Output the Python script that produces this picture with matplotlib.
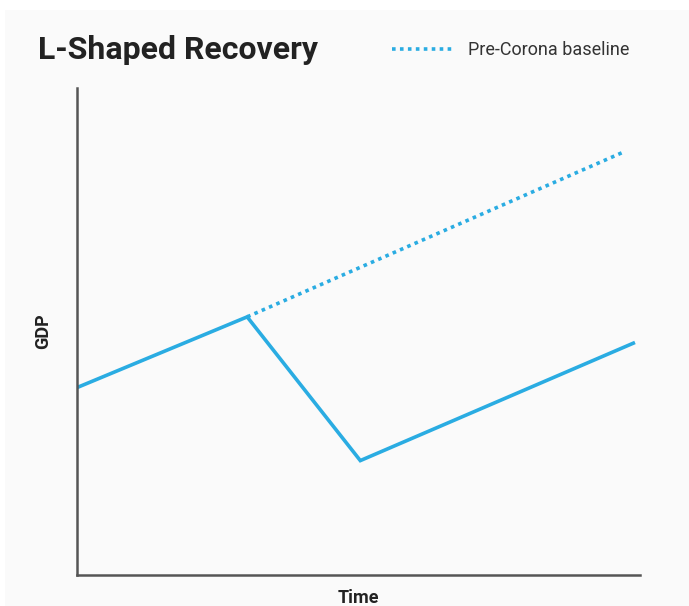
import matplotlib.pyplot as plt
from matplotlib import font_manager
from matplotlib.patches import Rectangle

# data
time = [0, 3.02, 5.03, 9.88]
gdp = [3.85, 5.3, 2.35, 4.76]
baseline_time = [3.02, 9.68]
baseline_gdp = [5.3, 8.67]

names = {f.name for f in font_manager.fontManager.ttflist}
fam = 'Liberation Sans Narrow' if 'Liberation Sans Narrow' in names else 'Roboto'
plt.rcParams['font.family'] = [fam, 'DejaVu Sans']

blue = '#2aace2'
bg = '#fafafa'

fig = plt.figure(figsize=(6.89, 6.06), dpi=100, facecolor=bg)
# white margin strips seen at the top and left edge of the picture
fig.patches.append(Rectangle((0, 1 - 10 / 606), 1, 10 / 606, transform=fig.transFigure,
                             facecolor='white', edgecolor='none', zorder=-1))
fig.patches.append(Rectangle((0, 0), 5 / 689, 1, transform=fig.transFigure,
                             facecolor='white', edgecolor='none', zorder=-1))

ax = fig.add_axes([0.112, 0.051, 0.817, 0.804], facecolor=bg)

ax.plot(time, gdp, color=blue, lw=2.6, solid_joinstyle='miter')
ax.plot(baseline_time, baseline_gdp, color=blue, lw=2.6, ls=(0, (1, 1.2)),
        label='Pre-Corona baseline')

ax.set_xlim(0, 10)
ax.set_ylim(0, 10)
ax.set_xticks([])
ax.set_yticks([])
for s in ['top', 'right']:
    ax.spines[s].set_visible(False)
for s in ['left', 'bottom']:
    ax.spines[s].set_color('#555555')
    ax.spines[s].set_linewidth(1.8)

ax.set_xlabel('Time', fontsize=13, fontweight='bold', color='#222222', labelpad=10)
ax.set_ylabel('GDP', fontsize=13, fontweight='bold', color='#222222', labelpad=18)

fig.text(0.055, 0.917, 'L-Shaped Recovery', fontsize=23, fontweight='bold',
         color='#222222', va='center', ha='left')
fig.legend(loc='center left', bbox_to_anchor=(0.545, 0.917), frameon=False,
           fontsize=13, handlelength=3.5, handletextpad=0.7,
           labelcolor='#333333')

fig.savefig('out.png', dpi=100, facecolor=bg)
